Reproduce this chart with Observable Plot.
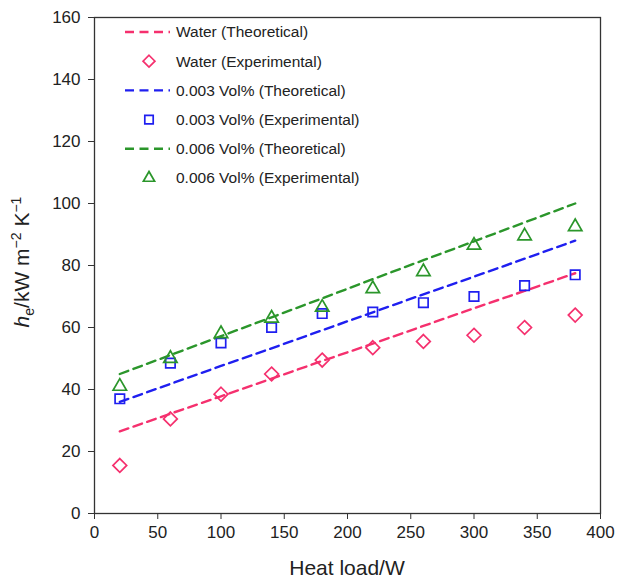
<!DOCTYPE html>
<html>
<head>
<meta charset="utf-8">
<script src="https://cdn.jsdelivr.net/npm/d3@7"></script>
<script src="https://cdn.jsdelivr.net/npm/@observablehq/plot@0.6"></script>
<style>
  html, body { margin: 0; padding: 0; background: #fff; }
  #chart { position: relative; width: 623px; height: 583px; font-family: "Liberation Sans", Arial, sans-serif; }
</style>
</head>
<body>
<div id="chart"></div>
<script>
const heatLoad = [20, 60, 100, 140, 180, 220, 260, 300, 340, 380];
const waterTheo = [26.5, 32.2, 37.8, 43.5, 49.2, 54.8, 60.5, 66.2, 71.8, 77.5];
const waterExp = [15.5, 30.5, 38.5, 45, 49.5, 53.5, 55.5, 57.5, 60, 64];
const vol003Theo = [36, 41.8, 47.6, 53.3, 59.1, 64.9, 70.7, 76.4, 82.2, 88];
const vol003Exp = [37, 48.5, 55, 60, 64.5, 65, 68, 70, 73.5, 77];
const vol006Theo = [45, 51.1, 57.2, 63.3, 69.4, 75.6, 81.7, 87.8, 93.9, 100];
const vol006Exp = [41, 50, 58, 63, 66.5, 72.5, 78, 86.5, 89.5, 92.5];
const xTicks = [0, 50, 100, 150, 200, 250, 300, 350, 400];
const yTicks = [0, 20, 40, 60, 80, 100, 120, 140, 160];
const seriesLabels = ["Water (Theoretical)", "Water (Experimental)", "0.003 Vol% (Theoretical)", "0.003 Vol% (Experimental)", "0.006 Vol% (Theoretical)", "0.006 Vol% (Experimental)"];

const pink = "#f5306e", blue = "#1f1ff0", green = "#2b962b";
const toRows = (vals) => heatLoad.map((x, i) => ({x, y: vals[i]}));

const dash = "9,5.5";
const plot = Plot.plot({
  width: 623, height: 583,
  marginLeft: 94, marginRight: 23, marginTop: 17, marginBottom: 70,
  style: {fontFamily: "Liberation Sans, Arial, sans-serif", fontSize: "17px", color: "#222", background: "#fff"},
  x: {domain: [0, 400], label: null},
  y: {domain: [0, 160], label: null},
  marks: [
    Plot.frame({stroke: "#333", strokeWidth: 1.3}),
    Plot.axisX({ticks: xTicks, tickSize: 6, tickPadding: 6, label: null, stroke: "#333", fontSize: 17}),
    Plot.axisY({ticks: yTicks, tickSize: 6, tickPadding: 8, label: null, stroke: "#333", fontSize: 17}),
    Plot.line(toRows(waterTheo), {x: "x", y: "y", stroke: pink, strokeWidth: 2.4, strokeDasharray: dash}),
    Plot.line(toRows(vol003Theo), {x: "x", y: "y", stroke: blue, strokeWidth: 2.4, strokeDasharray: dash}),
    Plot.line(toRows(vol006Theo), {x: "x", y: "y", stroke: green, strokeWidth: 2.4, strokeDasharray: dash}),
    Plot.dot(toRows(waterExp), {x: "x", y: "y", symbol: "diamond2", r: 6.2, stroke: pink, strokeWidth: 1.7, fill: "none"}),
    Plot.dot(toRows(vol003Exp), {x: "x", y: "y", symbol: "square2", r: 6, stroke: blue, strokeWidth: 1.7, fill: "none"}),
    Plot.dot(toRows(vol006Exp), {x: "x", y: "y", symbol: "triangle2", r: 6.4, stroke: green, strokeWidth: 1.7, fill: "none"})
  ]
});
document.getElementById("chart").appendChild(plot);

const svg = d3.select(plot);
// axis titles
svg.append("text").attr("x", (94 + 600) / 2).attr("y", 575).attr("text-anchor", "middle")
  .attr("font-size", 21).attr("fill", "#222").text("Heat load/W");
const yt = svg.append("text").attr("transform", "translate(29,262) rotate(-90)").attr("text-anchor", "middle")
  .attr("font-size", 21).attr("fill", "#222");
yt.append("tspan").attr("font-style", "italic").text("h");
yt.append("tspan").attr("font-size", 14).attr("dy", 5).text("e");
yt.append("tspan").attr("dy", -5).text("/kW m");
yt.append("tspan").attr("font-size", 14).attr("dy", -8).text("\u22122");
yt.append("tspan").attr("dy", 8).text(" K");
yt.append("tspan").attr("font-size", 14).attr("dy", -8).text("\u22121");

// legend
const colors = [pink, pink, blue, blue, green, green];
const symbols = [null, d3.symbolDiamond2, null, d3.symbolSquare2, null, d3.symbolTriangle2];
const lg = svg.append("g").attr("font-size", 15.5).attr("fill", "#222").attr("text-anchor", "start");
seriesLabels.forEach((lab, i) => {
  const y = 32 + i * 29.2;
  if (symbols[i] === null) {
    lg.append("line").attr("x1", 125).attr("x2", 170).attr("y1", y).attr("y2", y)
      .attr("stroke", colors[i]).attr("stroke-width", 2.4).attr("stroke-dasharray", dash);
  } else {
    lg.append("path").attr("d", d3.symbol(symbols[i], 90)()).attr("transform", `translate(149,${y})`)
      .attr("fill", "none").attr("stroke", colors[i]).attr("stroke-width", 1.7);
  }
  lg.append("text").attr("x", 176).attr("y", y).attr("dy", "0.35em").attr("text-anchor", "start").text(lab);
});
</script>
</body>
</html>
